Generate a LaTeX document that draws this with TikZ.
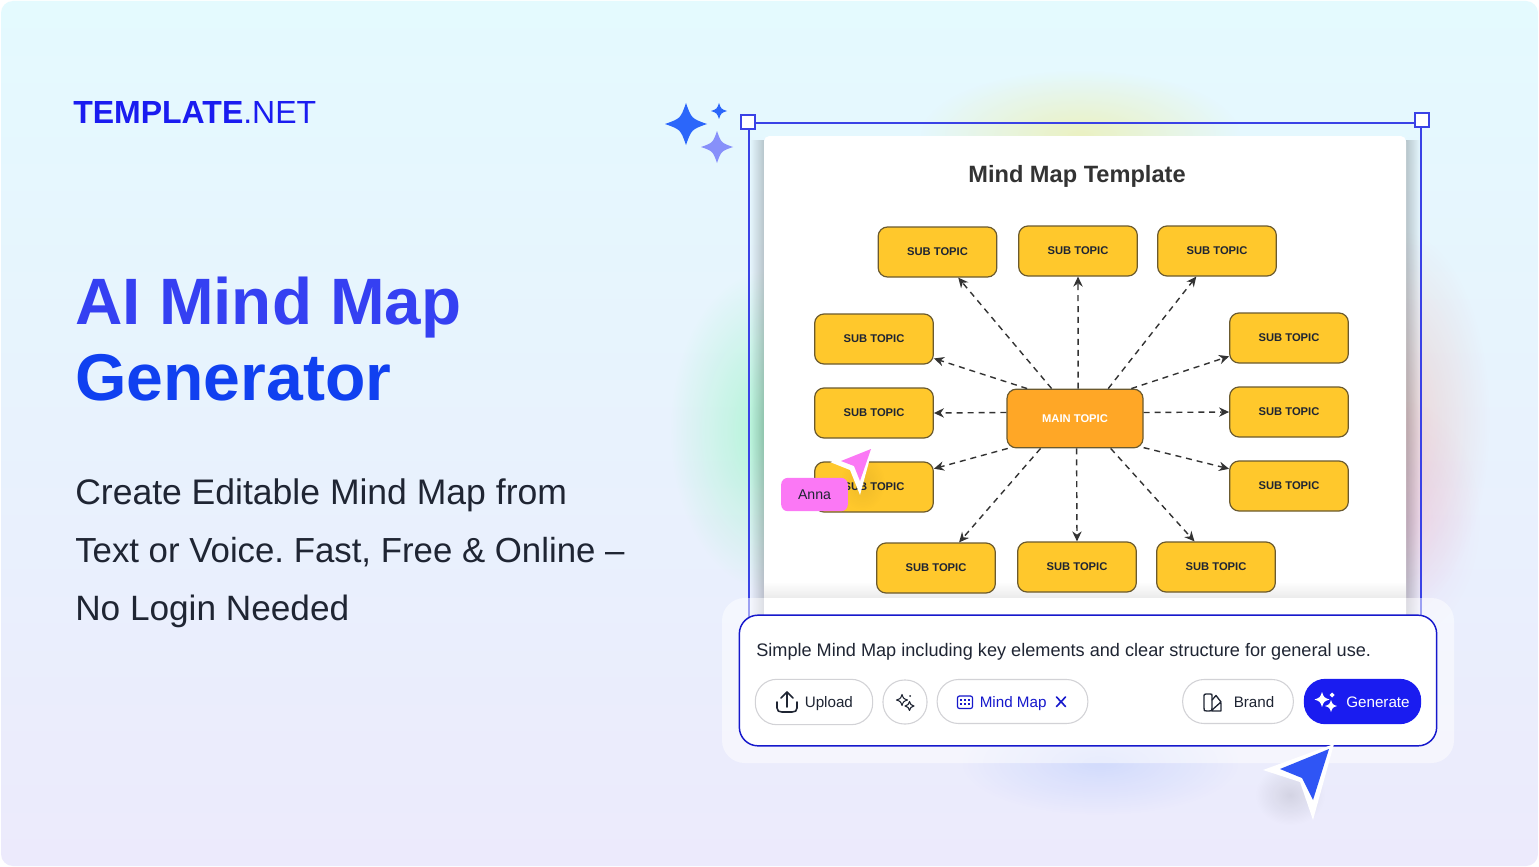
\documentclass[tikz,border=0pt]{standalone}
\usepackage{fontspec}
\setmainfont{Liberation Sans}
\usetikzlibrary{arrows.meta,fadings}
\frenchspacing
\definecolor{bgTop}{HTML}{E4FAFE}
\definecolor{bgMid}{HTML}{E7F2FE}
\definecolor{bgBottom}{HTML}{ECEAFC}
\definecolor{inkDark}{HTML}{1F2533}
\definecolor{brandBlue}{HTML}{1A1CF0}
\definecolor{titleBlue}{HTML}{3540F2}
\definecolor{genBlue}{HTML}{1040F0}
\definecolor{frameBlue}{HTML}{3A42E6}
\definecolor{subFill}{HTML}{FFC82C}
\definecolor{mainFill}{HTML}{FFA726}
\definecolor{boxEdge}{HTML}{6B5A2E}
\definecolor{lineDark}{HTML}{333333}
\definecolor{pillEdge}{HTML}{D2D2D6}
\definecolor{pinkLabel}{HTML}{FB78F5}
\definecolor{cursorBlue}{HTML}{2F55F5}
\definecolor{starBlue}{HTML}{2B66FA}
\definecolor{starSoft}{HTML}{8790FA}
\tikzfading[name=glowFade,inner color=transparent!25,outer color=transparent!100]
\begin{document}
\begin{tikzpicture}
[x=0.75pt,y=-0.75pt,%
  subDecorate/.style={shape=rectangle,draw=boxEdge,fill=subFill,line width=0.9pt,rounded corners=7pt,%
    minimum width=89pt,minimum height=37.5pt,inner sep=0pt,text=inkDark,%
    font=\fontsize{8.4}{10}\selectfont\bfseries},%
  mainDecorate/.style={subDecorate,fill=mainFill,minimum width=102pt,minimum height=44pt,text=white},%
  lineDecorate/.style={-{Stealth[length=7.5pt,width=7pt]},dash pattern=on 4.5pt off 3.7pt,draw=lineDark,line width=1.05pt},%
  pillDecorate/.style={shape=rectangle,draw=pillEdge,fill=white,line width=0.8pt,rounded corners=16pt,inner sep=0pt,minimum height=33pt},%
  handleDecorate/.style={shape=rectangle,draw=frameBlue,fill=white,line width=1.4pt,minimum size=10pt,inner sep=0pt},%
  labelDecorate/.style={inner sep=0pt,anchor=base west},%
  pillText/.style={inner sep=0pt,anchor=base west,text=inkDark,font=\fontsize{11.4}{14}\selectfont},%
  iconLine/.style={draw=inkDark,line width=1pt,line cap=round,line join=round},%
  sparkle/.pic={\path[pic actions] (0,1) .. controls (0.26,0.26) .. (1,0) .. controls (0.26,-0.26) .. (0,-1)
    .. controls (-0.26,-0.26) .. (-1,0) .. controls (-0.26,0.26) .. cycle;}]
\useasboundingbox (0,0) rectangle (1539,867);
%% background and soft glows
\fill[white] (0,0) rectangle (1539,867);
\shade[top color=bgTop,middle color=bgMid,bottom color=bgBottom,rounded corners=9pt] (1,1) rectangle (1538,866);
\fill[green!65!cyan,path fading=glowFade,opacity=0.32] (670,270) rectangle (870,590);
\fill[yellow!80!orange,path fading=glowFade,opacity=0.32] (920,70) rectangle (1240,200);
\fill[red!60!orange,path fading=glowFade,opacity=0.2] (1310,230) rectangle (1490,610);
\fill[magenta!55,path fading=glowFade,opacity=0.2] (1320,400) rectangle (1480,640);
\fill[blue!70!cyan,path fading=glowFade,opacity=0.14] (960,710) rectangle (1240,815);
%% left texts
\node (logoText) at (73,123) [labelDecorate,text=brandBlue,font=\fontsize{24}{30}\selectfont] {\textbf{TEMPLATE}.NET};
\node (titleOne) at (75,324) [labelDecorate,text=titleBlue,font=\fontsize{49.2}{58}\selectfont\bfseries] {AI Mind Map};
\node (titleTwo) at (75,400) [labelDecorate,text=genBlue,font=\fontsize{49.6}{58}\selectfont\bfseries] {Generator};
\foreach \nodename/\y/\size/\words in {leadOne/504/26.65/Create Editable Mind Map from, leadTwo/562/26.1/Text or Voice. Fast{,} Free \& Online –, leadThree/620/26.4/No Login Needed}
{
  \node (\nodename) at (75,\y) [labelDecorate,text=inkDark,font=\fontsize{\size}{30}\selectfont] {\words};
}
%% stars
\pic[fill=starBlue,scale=21] at (686,124) {sparkle};
\pic[fill=starBlue,scale=8] at (719,111) {sparkle};
\pic[fill=starSoft,scale=16] at (717,147) {sparkle};
%% frame and card
\fill[black,opacity=0.2,path fading=west] (750,140) rectangle (764,615);
\fill[black,opacity=0.2,path fading=east] (1406,140) rectangle (1420,615);
\node (handleLeft) at (748,122) [handleDecorate] {};
\node (handleRight) at (1422,120) [handleDecorate] {};
\coordinate (frameLeft) at (749,620);
\coordinate (frameRight) at (1421,620);
\draw[frameBlue,line width=1.4pt] (frameLeft) -- (handleLeft.south -| frameLeft);
\draw[frameBlue,line width=1.4pt] (frameRight) -- (handleRight.south -| frameRight);
\draw[frameBlue,line width=1.4pt] (handleLeft.east |- 0,123) -- (handleRight.west |- 0,123);
\fill[white,rounded corners=4pt] (764,136) rectangle (1406,620);
\fill[black!8,path fading=north] (764,582) rectangle (1406,598);
\node (cardTitle) at (1077,176.5) [inner sep=0pt,text=lineDark,font=\fontsize{17.7}{22}\selectfont\bfseries] {Mind Map Template};
%% nodes or vertices
\node (mainTopic) at (1075,418.5) [mainDecorate] {MAIN TOPIC};
\foreach \nodename/\x/\y in {subA/937.5/252, subB/1078/251, subC/1217/251, subD/874/339, subE/874/413, subF/874/487, subG/1289/338, subH/1289/412, subI/1289/486, subJ/936/568, subK/1077/567, subL/1216/567}
{
  \node (\nodename) at (\x,\y) [subDecorate] {SUB TOPIC};
}
%% edges or lines
\path
\foreach \startangle/\endnode/\endangle in {128/subA/309.4, 84/subB/270, 42.7/subC/231.3, 148.4/subD/342.4, 175.4/subE/0, 204/subF/17.6, 221.8/subJ/48.6, 273.9/subK/90, 320.7/subL/130, 28.2/subG/197.7, 5.5/subH/180, 337.6/subI/164}
{
  (mainTopic.\startangle) edge[lineDecorate] (\endnode.\endangle)
};
%% pink cursor
\fill[black,opacity=0.09,path fading=glowFade] (840,455) rectangle (885,510);
\fill[white] (873,447) -- (830,462) -- (850,470) -- (860,495) -- cycle;
\fill[pinkLabel] (871,449) -- (841,461) -- (854,466) -- (860,481) -- cycle;
\node (annaTag) at (814.5,494) [shape=rectangle,fill=pinkLabel,rounded corners=5pt,minimum width=50pt,minimum height=25pt,inner sep=0pt,text=inkDark,text depth=0pt,yshift=-0.4pt,font=\fontsize{10.6}{13}\selectfont] {Anna};
%% prompt panel
\fill[white,opacity=0.5,rounded corners=17pt] (722,598) rectangle (1454,763);
\node (promptBox) at (1088,680.5) [shape=rectangle,draw=brandBlue!85!black,fill=white,line width=1.1pt,rounded corners=14pt,minimum width=523pt,minimum height=98pt,inner sep=0pt] {};
\node (promptText) at (756,656) [labelDecorate,text=inkDark,font=\fontsize{13.6}{16}\selectfont] {Simple Mind Map including key elements and clear structure for general use.};
%% pills
\node (uploadPill) at (814,702) [pillDecorate,minimum width=88pt,minimum height=34pt] {};
\node (magicPill) at (905,702) [pillDecorate,minimum width=33pt] {};
\node (mapPill) at (1012.5,701.5) [pillDecorate,minimum width=113pt] {};
\node (brandPill) at (1238,701.5) [pillDecorate,minimum width=83pt] {};
\node (generatePill) at (1362.5,701.5) [pillDecorate,draw=none,fill=brandBlue,minimum width=88pt,minimum height=34pt] {};
\node (uploadText) at (804.5,707) [pillText] {Upload};
\node (mapText) at (979.5,707) [pillText,text=brandBlue!85!black] {Mind Map};
\node (brandText) at (1233.5,707) [pillText] {Brand};
\node (generateText) at (1346,707) [pillText,text=white] {Generate};
%% icons
\draw[iconLine,line width=1.2pt] (787,707) -- (787,692) (781,698) -- (787,692) -- (793,698);
\draw[iconLine,line width=1.2pt] (777,702) -- (777,708) .. controls (777,711) and (779,712) .. (782,712) -- (792,712) .. controls (795,712) and (797,711) .. (797,708) -- (797,702);
\pic[iconLine,line width=0.8pt,scale=5.5] at (902,700) {sparkle};
\pic[iconLine,line width=0.8pt,scale=4.5] at (909.5,706) {sparkle};
\fill[inkDark] (910,696) circle (1);
\draw[brandBlue!85!black,line width=0.9pt,rounded corners=1.5pt] (957.5,696) rectangle (972.5,708.5);
\foreach \x in {961,965,969}
{
  \fill[brandBlue!85!black] (\x-1,699) rectangle (\x+1,701);
  \fill[brandBlue!85!black] (\x-1,702.5) rectangle (\x+1,704.5);
}
\draw[brandBlue!85!black,line width=1.2pt,line cap=round] (1056.5,697) -- (1065.5,706.5) (1065.5,697) -- (1056.5,706.5);
\draw[iconLine] (1204,696) .. controls (1204,694.5) .. (1206,694) -- (1210,694) .. controls (1212,694) .. (1212,696) -- (1212,708) .. controls (1212,711) .. (1209,711) -- (1207,711) .. controls (1204,711) .. (1204,708) -- cycle;
\draw[iconLine] (1212,700) -- (1216,695.5) -- (1221,702) -- (1212,710) (1212,711) -- (1221,711) -- (1221,703);
\pic[fill=white,scale=7.5] at (1322,699.5) {sparkle};
\pic[fill=white,scale=6] at (1331,706) {sparkle};
\pic[fill=white,scale=2.5] at (1332,695) {sparkle};
%% blue cursor
\fill[black,opacity=0.13,path fading=glowFade] (1255,765) rectangle (1325,825);
\fill[white] (1334,744) -- (1263,770) -- (1300,782) -- (1313,820) -- cycle;
\fill[cursorBlue] (1329,749) -- (1280,769) -- (1302,778) -- (1313,800) -- cycle;
\end{tikzpicture}
\end{document}
